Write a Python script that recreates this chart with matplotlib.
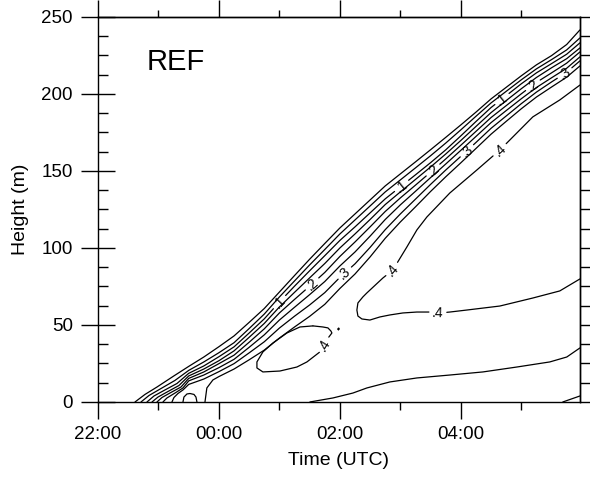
import numpy as np
import matplotlib
matplotlib.use("Agg")
import matplotlib.pyplot as plt
from matplotlib.ticker import MultipleLocator, FixedLocator, NullFormatter

plt.rcParams['font.family'] = ['Liberation Sans', 'DejaVu Sans']

# time in hours counted from 22 UTC of the first day (24 -> 00:00, 26 -> 02:00 ...)
band_t = [23.5, 23.75, 24.0, 24.25, 24.5, 24.75, 25.0, 25.25, 25.5, 25.75, 26.0,
          26.25, 26.5, 26.75, 27.0, 27.25, 27.5, 27.75, 28.0, 28.25, 28.5, 28.75,
          29.0, 29.25, 29.5, 29.75, 29.97]

# sloping bundle of isolines, upper edge first; feet are where they leave the ground
band1_foot_t = [22.612, 22.777, 22.975, 23.25]
band1_foot_h = [0, 4.9, 9.7, 16.8]
band1_h = [23.1, 29.2, 35.9, 42.9, 51.7, 60.7, 71.4, 82.1, 92.7, 102.9, 113.0, 122.1,
           131.2, 140.3, 148.1, 155.9, 163.8, 171.8, 179.9, 188.2, 196.8, 204.3,
           211.8, 218.9, 224.9, 232.1, 241.6]

band2_foot_t = [22.711, 22.843, 23.058, 23.273]
band2_foot_h = [0, 4.2, 9.1, 14.0]
band2_h = [20.5, 26.0, 32.0, 38.5, 47.7, 57.1, 68.2, 78.6, 89.0, 99.0, 109.1, 118.2,
           127.3, 136.4, 144.2, 152.0, 159.9, 168.1, 176.7, 185.5, 194.2, 201.7,
           209.2, 216.3, 222.3, 228.6, 236.4]

band3_foot_t = [22.810, 22.926, 23.107, 23.306]
band3_foot_h = [0, 3.9, 7.8, 12.0]
band3_h = [18.6, 23.4, 29.4, 35.8, 44.8, 54.0, 64.9, 75.2, 85.2, 95.0, 104.9, 113.7,
           122.8, 131.9, 139.7, 147.5, 155.4, 163.7, 172.8, 182.1, 191.2, 198.9,
           206.6, 213.7, 219.7, 225.8, 233.2]

band4_foot_t = [22.893, 22.992, 23.157, 23.339]
band4_foot_h = [0, 3.2, 6.8, 10.7]
band4_h = [16.9, 21.4, 26.8, 33.2, 42.0, 51.0, 61.7, 71.2, 80.6, 89.9, 100.0, 109.1,
           118.5, 128.2, 136.4, 144.5, 152.6, 161.0, 169.8, 178.9, 187.9, 195.7,
           203.4, 210.7, 217.0, 222.9, 229.9]

band5_foot_t = [22.975, 23.058, 23.207, 23.372]
band5_foot_h = [0, 2.9, 6.2, 9.7]
band5_h = [15.3, 19.5, 24.9, 30.4, 38.8, 47.5, 57.8, 66.6, 75.2, 84.1, 94.5, 103.9,
           113.7, 123.7, 132.5, 140.8, 149.2, 157.8, 166.7, 175.7, 184.7, 192.4,
           200.1, 207.5, 213.7, 220.0, 227.3]

band6_foot_t = [23.074, 23.140, 23.273, 23.405]
band6_foot_h = [0, 2.6, 5.8, 9.1]
band6_h = [13.7, 17.5, 22.3, 27.7, 35.5, 43.6, 53.2, 61.5, 69.7, 78.2, 88.3, 97.4,
           107.7, 118.5, 128.0, 136.8, 145.7, 154.5, 163.4, 172.4, 181.4, 189.2,
           196.9, 204.2, 210.5, 216.7, 224.1]

band7_foot_t = [23.223, 23.256, 23.322, 23.405]
band7_foot_h = [0, 2.9, 5.5, 7.8]
band7_h = [11.4, 14.9, 19.7, 24.9, 31.9, 39.1, 48.0, 55.7, 63.0, 71.0, 80.9, 89.7,
           100.4, 111.9, 122.1, 131.7, 141.3, 150.6, 159.5, 168.5, 177.7, 185.7,
           193.7, 201.2, 207.8, 214.1, 221.5]

# lowest line of the bundle starts later, its heights run on band_t[2:]
band8_foot_t = [23.769, 23.80, 23.90]
band8_foot_h = [0, 9.1, 14.3]
band8_h = [16.5, 21.4, 27.4, 33.7, 41.5, 48.7, 55.6, 63.4, 73.7, 83.1, 94.2, 106.3,
           116.9, 126.7, 136.7, 146.2, 155.3, 164.6, 173.9, 182.2, 190.4, 198.0,
           204.5, 210.9, 218.2]

# small closed isoline at the ground under the bundle
loop_t = [23.405, 23.421, 23.471, 23.521, 23.587, 23.620, 23.636]
loop_h = [0, 3.2, 5.2, 5.5, 4.9, 3.2, 0]

# .4 isoline opening to the right
wedge_t = [29.97, 29.636, 29.190, 28.810, 28.645, 28.264, 27.818, 27.438, 27.273,
           27.107, 26.876, 26.711, 26.446, 26.380, 26.298, 26.281, 26.298, 26.364,
           26.496, 26.661, 26.826, 27.041, 27.273, 27.488, 27.653, 27.818, 28.099,
           28.645, 29.190, 29.636, 29.97]
wedge_h = [205.8, 196.1, 185.1, 170.1, 163.6, 150.6, 135.7, 120.1, 111.7, 100.6,
           85.7, 80.5, 70.8, 68.2, 64.3, 59.7, 55.8, 53.9, 53.2, 55.2, 56.5, 57.8,
           58.4, 58.4, 57.8, 58.4, 59.7, 62.3, 67.5, 72.1, 79.9]

# closed .4 cell and the tiny one next to it
cell_t = [25.554, 25.719, 25.802, 25.851, 25.868, 25.818, 25.752, 25.669, 25.455,
          25.289, 25.008, 24.727, 24.628, 24.628, 24.727, 24.893, 25.124, 25.339,
          25.554]
cell_h = [49.4, 48.7, 48.1, 46.1, 44.8, 42.2, 37.0, 32.5, 26.0, 22.7, 20.1, 19.5,
          22.1, 26.0, 32.5, 38.3, 44.8, 48.7, 49.4]
dot_t = [25.975, 25.99, 25.98, 25.965, 25.975]
dot_h = [46.9, 47.4, 48.0, 47.4, 46.9]

# isolines near the ground on the right
low_t = [25.504, 25.884, 26.215, 26.446, 26.826, 27.273, 27.818, 28.364, 28.926,
         29.471, 29.752, 29.97]
low_h = [0, 2.6, 5.8, 9.1, 13.0, 15.6, 17.5, 19.5, 22.7, 26.0, 29.2, 35.1]
corner_t = [29.686, 29.97]
corner_h = [0, 3.9]

time_ticks = [22, 24, 26, 28]
time_labels = ['22:00', '00:00', '02:00', '04:00']


def find_anchor(ts, t0, start=0):
    for i in range(start, len(ts) - 1):
        a, b = ts[i], ts[i + 1]
        if a != b and min(a, b) <= t0 <= max(a, b):
            return i, (t0 - a) / (b - a)
    raise ValueError('label time not on line')


def draw_isoline(ax, ts, hs, labels=(), gap=9.0):
    """Plot one isoline; labels are (text, time, first vertex to search)."""
    ts = np.asarray(ts, float)
    hs = np.asarray(hs, float)
    pts = ax.transData.transform(np.column_stack([ts, hs]))
    seg = np.hypot(np.diff(pts[:, 0]), np.diff(pts[:, 1]))
    s = np.concatenate([[0.0], np.cumsum(seg)])

    cuts = []
    for text, t0, start in labels:
        i, f = find_anchor(ts, t0, start)
        s0 = s[i] + f * seg[i]
        x0, y0 = np.interp(s0, s, ts), np.interp(s0, s, hs)
        dx = np.interp(s0 + 6, s, pts[:, 0]) - np.interp(s0 - 6, s, pts[:, 0])
        dy = np.interp(s0 + 6, s, pts[:, 1]) - np.interp(s0 - 6, s, pts[:, 1])
        ang = np.degrees(np.arctan2(dy, dx))
        if ang > 90:
            ang -= 180
        elif ang < -90:
            ang += 180
        ax.text(x0, y0, text, rotation=ang, rotation_mode='anchor',
                ha='center', va='center', fontsize=10, zorder=4)
        cuts.append((s0 - gap, s0 + gap))

    pieces, a = [], 0.0
    for lo, hi in sorted(cuts):
        pieces.append((a, lo))
        a = hi
    pieces.append((a, s[-1]))
    for lo, hi in pieces:
        if hi <= lo:
            continue
        inner = (s > lo) & (s < hi)
        pt = np.concatenate([[np.interp(lo, s, ts)], ts[inner], [np.interp(hi, s, ts)]])
        ph = np.concatenate([[np.interp(lo, s, hs)], hs[inner], [np.interp(hi, s, hs)]])
        ax.plot(pt, ph, color='black', lw=0.9, solid_joinstyle='round',
                solid_capstyle='round', zorder=3)


fig = plt.figure(figsize=(5.9, 4.79), dpi=100)
ax = fig.add_axes([0.1661, 0.1608, 0.8169, 0.8038])
ax.set_xlim(22, 29.97)
ax.set_ylim(0, 250)

draw_isoline(ax, band1_foot_t + band_t, band1_foot_h + band1_h)
draw_isoline(ax, band2_foot_t + band_t, band2_foot_h + band2_h)
draw_isoline(ax, band3_foot_t + band_t, band3_foot_h + band3_h,
             labels=[('.1', 25.0, 0), ('.1', 27.02, 0), ('.1', 28.68, 0)])
draw_isoline(ax, band4_foot_t + band_t, band4_foot_h + band4_h)
draw_isoline(ax, band5_foot_t + band_t, band5_foot_h + band5_h,
             labels=[('.2', 25.54, 0), ('.2', 27.54, 0), ('.2', 29.19, 0)])
draw_isoline(ax, band6_foot_t + band_t, band6_foot_h + band6_h)
draw_isoline(ax, band7_foot_t + band_t, band7_foot_h + band7_h,
             labels=[('.3', 26.08, 0), ('.3', 28.10, 0), ('.3', 29.72, 0)])
draw_isoline(ax, band8_foot_t + band_t[2:], band8_foot_h + band8_h)
draw_isoline(ax, loop_t, loop_h)
draw_isoline(ax, wedge_t, wedge_h,
             labels=[('.4', 28.645, 0), ('.4', 26.876, 0), ('.4', 27.62, 16)])
draw_isoline(ax, cell_t, cell_h, labels=[('.4', 25.75, 5)])
draw_isoline(ax, dot_t, dot_h)
draw_isoline(ax, low_t, low_h)
draw_isoline(ax, corner_t, corner_h)

ax.text(0.1, 0.862, 'REF', transform=ax.transAxes, fontsize=21)

# axes, ticks and labels
ax.xaxis.set_major_locator(FixedLocator(time_ticks))
ax.set_xticklabels(time_labels)
ax.xaxis.set_minor_locator(FixedLocator([23, 25, 27, 29]))
ax.yaxis.set_major_locator(MultipleLocator(50))
ax.yaxis.set_minor_locator(MultipleLocator(12.5))
ax.tick_params(axis='x', which='major', direction='out', length=12, width=1,
               pad=5, labelsize=13.5)
ax.tick_params(axis='x', which='minor', direction='out', length=6, width=1)
ax.tick_params(axis='y', which='major', direction='inout', length=24, width=1,
               pad=6, labelsize=13.5)
ax.tick_params(axis='y', which='minor', direction='in', length=7, width=1)

top = ax.secondary_xaxis('top')
top.xaxis.set_major_locator(FixedLocator(time_ticks))
top.xaxis.set_minor_locator(FixedLocator([23, 25, 27, 29]))
top.xaxis.set_major_formatter(NullFormatter())
top.tick_params(which='major', direction='out', length=12, width=1)
top.tick_params(which='minor', direction='out', length=5, width=1)

right = ax.secondary_yaxis('right')
right.yaxis.set_major_locator(MultipleLocator(50))
right.yaxis.set_minor_locator(MultipleLocator(12.5))
right.yaxis.set_major_formatter(NullFormatter())
right.tick_params(which='major', direction='out', length=10, width=1)
right.tick_params(which='minor', direction='out', length=7, width=1)

for sp in ax.spines.values():
    sp.set_linewidth(1.0)
top.spines['top'].set_linewidth(1.0)
right.spines['right'].set_linewidth(1.0)

ax.set_xlabel('Time (UTC)', fontsize=14, labelpad=7)
ax.set_ylabel('Height (m)', fontsize=14, labelpad=9)

fig.savefig('out.png', dpi=100)
